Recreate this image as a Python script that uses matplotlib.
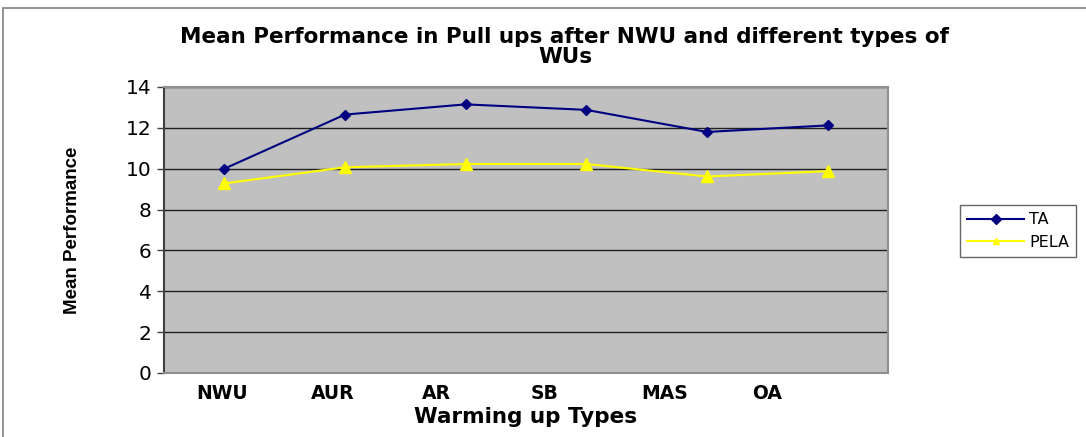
import numpy as np
import matplotlib
matplotlib.use('Agg')
import matplotlib.pyplot as plt
from matplotlib.patches import Rectangle

plt.rcParams['font.family'] = ['Liberation Sans', 'DejaVu Sans']

# данные
categories = ['NWU', 'AUR', 'AR', 'SB', 'MAS', 'OA']
ta = [10.0, 12.65, 13.15, 12.88, 11.8, 12.12]
pela = [9.28, 10.07, 10.23, 10.23, 9.62, 9.88]
# сдвиг подписей категорий (как в исходной картинке)
label_pos = [-0.02, 0.9, 1.76, 2.65, 3.65, 4.5]

wide = 'DejaVu Sans'

fig = plt.figure(figsize=(10.86, 4.37), dpi=100)
fig.patches.append(Rectangle((3 / 1086, -0.1), 1.2, (437 - 8) / 437 + 0.1,
                             transform=fig.transFigure, fill=False,
                             edgecolor='#808080', linewidth=1.2))

ax = fig.add_axes([164 / 1086, 64 / 437, 724 / 1086, 286 / 437])
ax.set_facecolor('#C0C0C0')

x = np.arange(len(categories))
ax.plot(x, ta, color='#000080', marker='D', markersize=5.5, linewidth=1.5, label='TA')
ax.plot(x, pela, color='#FFFF00', marker='^', markersize=8, linewidth=1.5, label='PELA')

ax.set_xlim(-0.5, len(categories) - 0.5)
ax.set_ylim(0, 14)
ax.set_yticks(np.arange(0, 15, 2))
ax.set_yticklabels([str(v) for v in range(0, 15, 2)], fontsize=14.5, family=wide)
ax.yaxis.grid(True, color='#202020', linewidth=1)
ax.set_axisbelow(True)
ax.tick_params(axis='y', length=5, width=1, color='#404040', pad=4)

ax.set_xticks(label_pos)
ax.set_xticklabels(categories, fontsize=13.5, fontweight='bold', family=wide)
ax.tick_params(axis='x', length=0, pad=8)

ax.spines['left'].set_color('#404040')
ax.spines['left'].set_linewidth(1.5)
for s in ['right', 'bottom', 'top']:
    ax.spines[s].set_color('#909090')
    ax.spines[s].set_linewidth(1.5)

ax.set_xlabel('Warming up Types', fontsize=15.5, fontweight='bold', family=wide, labelpad=3)
ax.set_ylabel('Mean Performance', fontsize=13.5, fontweight='bold', family='Liberation Sans')
ax.yaxis.set_label_coords(-0.115, 0.5)

fig.text(565 / 1086, 1 - 37 / 437, 'Mean Performance in Pull ups after NWU and different types of',
         ha='center', va='center', fontsize=15.5, fontweight='bold', family=wide)
fig.text(565 / 1086, 1 - 57 / 437, 'WUs', ha='center', va='center', fontsize=15.5,
         fontweight='bold', family=wide)

leg = fig.legend(loc='center', bbox_to_anchor=(1018 / 1086, 1 - 231 / 437),
                 prop={'family': wide, 'size': 11.5},
                 frameon=True, fancybox=False, edgecolor='#404040', borderpad=0.45,
                 handlelength=3.6, handletextpad=0.3, labelspacing=0.45, borderaxespad=0)
for h in leg.legend_handles:
    h.set_markersize(5)

fig.savefig('out.png', dpi=100)
